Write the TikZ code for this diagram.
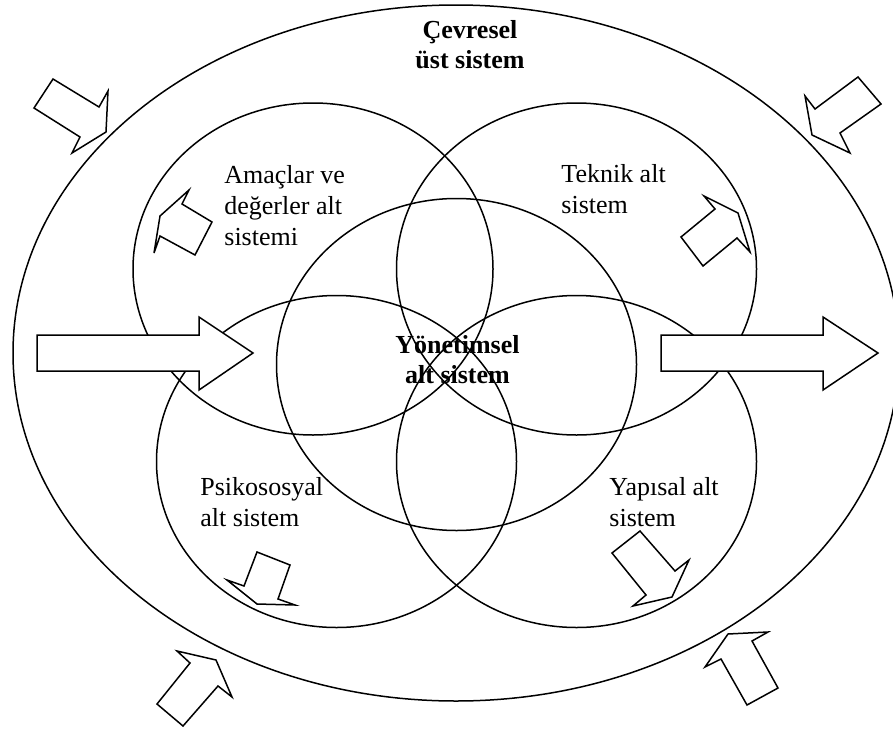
\documentclass[tikz,border=0pt]{standalone}
\usepackage{fontspec}
\setmainfont{Liberation Serif}

\begin{document}
\begin{tikzpicture}[x=0.5pt,y=-0.5pt,
  ring/.style={line width=0.75pt},
  flow/.style={draw,line width=0.75pt,fill=white,line join=miter},
  lbl/.style={anchor=base west,align=left,inner sep=0pt,font=\fontsize{13}{15.5}\selectfont},
  head/.style={anchor=base,align=center,inner sep=0pt,font=\bfseries\fontsize{13}{15}\selectfont}]
  \useasboundingbox (0,0) rectangle (893,728);
  % environment around everything
  \draw[ring] (456,353) ellipse [x radius=443, y radius=348];
  % the five subsystems
  \foreach \cx/\cy in {313/269, 576.5/269, 456.5/364.5, 336.5/461.5, 576.5/461.5}
    \draw[ring] (\cx,\cy) ellipse [x radius=180, y radius=166];
  % input and output
  \draw[flow] (37,335) -- (199,335) -- (199,317) -- (253,353) -- (199,390) -- (199,371) -- (37,371) -- cycle;
  \draw[flow] (661,335) -- (823,335) -- (823,317) -- (878,353) -- (823,390) -- (823,371) -- (661,371) -- cycle;
  % outside influences
  \draw[flow] (34,108) -- (53,79) -- (99,107) -- (108,91) -- (106,132) -- (72,153) -- (80,137) -- cycle;
  \draw[flow] (858,77) -- (881,104) -- (840,133) -- (850,153) -- (812,135) -- (805,96) -- (815,109) -- cycle;
  \draw[flow] (157,704) -- (190,663) -- (177,651) -- (216,660) -- (232,697) -- (218,686) -- (183,726) -- cycle;
  \draw[flow] (778,688) -- (752,641) -- (768,632) -- (728,634) -- (705,667) -- (721,659) -- (747,705) -- cycle;
  % inner arrows
  \draw[flow] (212,222) -- (195,255) -- (160,236) -- (154,253) -- (160,216) -- (189,190) -- (182,204) -- cycle;
  \draw[flow] (681,237) -- (715,209) -- (704,196) -- (738,213) -- (750,252) -- (737,238) -- (703,266) -- cycle;
  \draw[flow] (257,552) -- (290,565) -- (278,599) -- (295,605) -- (257,604) -- (227,580) -- (244,586) -- cycle;
  \draw[flow] (612,553) -- (640,531) -- (675,571) -- (689,560) -- (672,597) -- (633,606) -- (646,595) -- cycle;
  % labels (base = last line)
  \node[head] (env) at (470,68) {Çevresel\\üst sistem};
  \node[lbl] (goals) at (224,245) {Amaçlar ve\\değerler alt\\sistemi};
  \node[lbl] (tech) at (561,213) {Teknik alt\\sistem};
  \node[head] (mgmt) at (457.5,383) {Yönetimsel\\alt sistem};
  \node[lbl] (psy) at (200,526) {Psikososyal\\alt sistem};
  \node[lbl] (struct) at (609,526) {Yapısal alt\\sistem};
\end{tikzpicture}
\end{document}
